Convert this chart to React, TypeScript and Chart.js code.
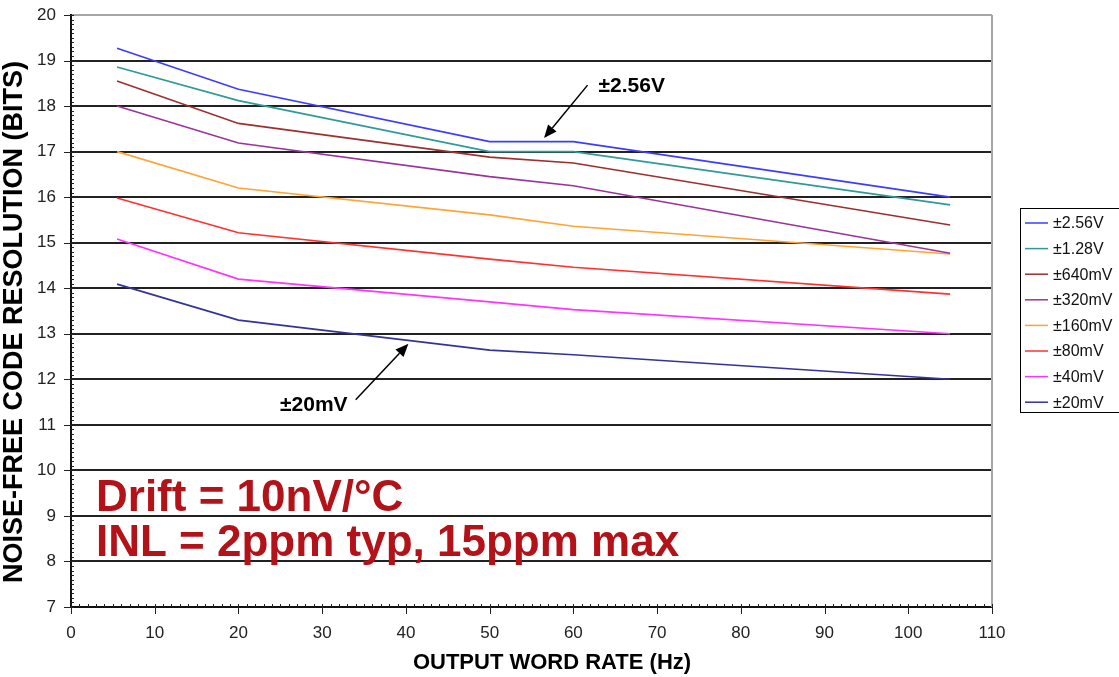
import React, { useEffect, useRef } from "react";
import { Chart, registerables } from "chart.js";

Chart.register(...registerables);

const xRates = [5.5, 20, 50, 60, 105];
const s256 = [19.27, 18.37, 17.22, 17.22, 16.0];
const s128 = [18.86, 18.12, 17.0, 17.0, 15.83];
const s640 = [18.55, 17.62, 16.88, 16.75, 15.39];
const s320 = [18.0, 17.19, 16.45, 16.25, 14.77];
const s160 = [17.0, 16.2, 15.61, 15.36, 14.75];
const s80 = [15.98, 15.22, 14.64, 14.46, 13.87];
const s40 = [15.08, 14.2, 13.7, 13.53, 13.0];
const s20 = [14.09, 13.3, 12.64, 12.54, 12.0];

const seriesLabels = ["±2.56V", "±1.28V", "±640mV", "±320mV", "±160mV", "±80mV", "±40mV", "±20mV"];
const seriesValues = [s256, s128, s640, s320, s160, s80, s40, s20];
const seriesColors = ["#3c3cff", "#2f9a9a", "#9e2f2f", "#9a349a", "#ffa433", "#ff3030", "#ff33ff", "#33339a"];

const xTitle = "OUTPUT WORD RATE (Hz)";
const yTitle = "NOISE-FREE CODE RESOLUTION (BITS)";
const noteLines = ["Drift = 10nV/°C", "INL = 2ppm typ, 15ppm max"];

const FONT = "'Liberation Sans', Arial, Helvetica, sans-serif";

const overlayPlugin = {
  id: "overlay",
  afterDraw(chart: any) {
    const { ctx, scales, chartArea: a } = chart;
    const x = scales.x;
    const y = scales.y;
    ctx.save();

    // right border
    ctx.strokeStyle = "#a6a6a6";
    ctx.lineWidth = 2;
    ctx.beginPath();
    ctx.moveTo(a.right, a.top);
    ctx.lineTo(a.right, a.bottom);
    ctx.stroke();

    // ticks
    ctx.strokeStyle = "#222";
    ctx.lineWidth = 1;
    for (let v = 70; v <= 200; v++) {
      const py = Math.round(y.getPixelForValue(v / 10)) + 0.5;
      ctx.beginPath();
      if (v % 10 === 0) {
        ctx.moveTo(a.left - 7, py);
        ctx.lineTo(a.left + 3, py);
      } else {
        ctx.moveTo(a.left, py);
        ctx.lineTo(a.left + 3, py);
      }
      ctx.stroke();
    }
    for (let v = 0; v <= 110; v++) {
      const px = Math.round(x.getPixelForValue(v)) + 0.5;
      ctx.beginPath();
      if (v % 10 === 0) {
        ctx.moveTo(px, a.bottom - 3);
        ctx.lineTo(px, a.bottom + 7);
      } else {
        ctx.moveTo(px, a.bottom - 3);
        ctx.lineTo(px, a.bottom);
      }
      ctx.stroke();
    }

    // axis titles
    ctx.fillStyle = "#000";
    ctx.font = `bold 22px ${FONT}`;
    ctx.textAlign = "center";
    ctx.textBaseline = "middle";
    ctx.fillText(xTitle, 552, 663);
    ctx.save();
    ctx.translate(15, 322);
    ctx.rotate(-Math.PI / 2);
    ctx.font = `bold 27px ${FONT}`;
    ctx.fillText(yTitle, 0, 0);
    ctx.restore();

    // annotations
    const arrow = (x1: number, y1: number, x2: number, y2: number) => {
      ctx.strokeStyle = "#000";
      ctx.fillStyle = "#000";
      ctx.lineWidth = 1.5;
      const ang = Math.atan2(y2 - y1, x2 - x1);
      const hl = 13;
      const hw = 5.5;
      const bx = x2 - hl * Math.cos(ang);
      const by = y2 - hl * Math.sin(ang);
      ctx.beginPath();
      ctx.moveTo(x1, y1);
      ctx.lineTo(bx, by);
      ctx.stroke();
      ctx.beginPath();
      ctx.moveTo(x2, y2);
      ctx.lineTo(bx + hw * Math.sin(ang), by - hw * Math.cos(ang));
      ctx.lineTo(bx - hw * Math.sin(ang), by + hw * Math.cos(ang));
      ctx.closePath();
      ctx.fill();
    };
    arrow(x.getPixelForValue(61.7), y.getPixelForValue(18.46), x.getPixelForValue(56.5), y.getPixelForValue(17.3));
    ctx.fillStyle = "#000";
    ctx.font = `bold 21px ${FONT}`;
    ctx.textAlign = "left";
    ctx.textBaseline = "alphabetic";
    ctx.fillText("±2.56V", x.getPixelForValue(63.0), 92);

    arrow(x.getPixelForValue(34), y.getPixelForValue(11.55), x.getPixelForValue(40.3), y.getPixelForValue(12.78));
    ctx.fillStyle = "#000";
    ctx.font = `bold 21px ${FONT}`;
    ctx.textAlign = "left";
    ctx.fillText("±20mV", 280, 411);

    // note text
    ctx.fillStyle = "#b31218";
    ctx.font = `bold 44px ${FONT}`;
    ctx.textAlign = "left";
    ctx.textBaseline = "alphabetic";
    ctx.fillText(noteLines[0], 96, 511);
    ctx.fillText(noteLines[1], 96, 556);

    // legend
    const lx = 1020;
    const ly = 208;
    const step = 25.6;
    ctx.fillStyle = "#fff";
    ctx.fillRect(lx, ly, 140, 204);
    ctx.strokeStyle = "#000";
    ctx.lineWidth = 1;
    ctx.strokeRect(lx + 0.5, ly + 0.5, 140, 204);
    ctx.font = `16px ${FONT}`;
    ctx.textBaseline = "middle";
    chart.data.datasets.forEach((ds: any, i: number) => {
      const cy = ly + 15 + i * step;
      ctx.strokeStyle = ds.borderColor;
      ctx.lineWidth = 1.5;
      ctx.beginPath();
      ctx.moveTo(lx + 5, cy);
      ctx.lineTo(lx + 28, cy);
      ctx.stroke();
      ctx.fillStyle = "#111";
      ctx.fillText(ds.label, lx + 33, cy + 1);
    });

    ctx.restore();
  },
};

export default function App() {
  const ref = useRef<HTMLCanvasElement | null>(null);
  useEffect(() => {
    if (!ref.current) return;
    const chart = new Chart(ref.current, {
      type: "scatter",
      data: {
        datasets: seriesLabels.map((label, i) => ({
          label,
          data: xRates.map((xv, j) => ({ x: xv, y: seriesValues[i][j] })),
          showLine: true,
          borderColor: seriesColors[i],
          backgroundColor: seriesColors[i],
          borderWidth: 1.6,
          pointRadius: 0,
          tension: 0,
        })),
      },
      options: {
        responsive: false,
        animation: false,
        layout: { padding: { left: 0, right: 127, top: 15, bottom: 0 } },
        plugins: { legend: { display: false }, tooltip: { enabled: false } },
        scales: {
          x: {
            type: "linear",
            min: 0,
            max: 110,
            ticks: { stepSize: 10, padding: 16, color: "#222", font: { family: FONT, size: 17 } },
            grid: { drawOnChartArea: false, drawTicks: false },
            border: { display: true, color: "#111", width: 2 },
            afterFit: (s: any) => {
              s.height = 70;
              s.paddingLeft = 0;
              s.paddingRight = 0;
            },
          },
          y: {
            type: "linear",
            min: 7,
            max: 20,
            ticks: { stepSize: 1, padding: 15, color: "#222", font: { family: FONT, size: 17 } },
            grid: {
              drawTicks: false,
              color: (c: any) => (c.tick && c.tick.value === 20 ? "#a6a6a6" : "#222"),
              lineWidth: 2,
            },
            border: { display: true, color: "#111", width: 2 },
            afterFit: (s: any) => {
              s.width = 71;
              s.paddingTop = 0;
              s.paddingBottom = 0;
            },
          },
        },
      },
      plugins: [overlayPlugin],
    });
    return () => chart.destroy();
  }, []);
  return (
    <div style={{ position: "fixed", left: 0, top: 0, width: 1119, height: 677, background: "#fff" }}>
      <canvas ref={ref} width={1119} height={677} style={{ width: 1119, height: 677 }} />
    </div>
  );
}
